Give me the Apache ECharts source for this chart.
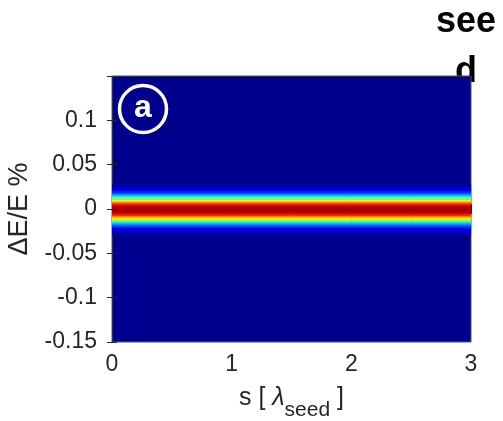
<!DOCTYPE html>
<html lang="en">
<head>
    <meta charset="UTF-8">
    <title>energy spread vs s</title>
    <script type="text/javascript" src="https://cdn.jsdelivr.net/npm/echarts@6/dist/echarts.min.js"></script>
    <style>
        html, body { margin: 0; padding: 0; background: #fff; }
    </style>
</head>
<body>
    <div id="main" style="width: 503px;height:421px;"></div>
    <script type="text/javascript">
    // columns along s (start of each column, in lambda_seed)
    let sStart = [0, 0.5, 1, 1.5, 2, 2.5];
    let sWidth = 0.5;

    // energy-deviation profile (centre of each row, in %) and its normalised density
    let deRows = [-0.028, -0.026, -0.024, -0.022, -0.020, -0.018, -0.016, -0.014, -0.012, -0.010, -0.008, -0.006, -0.004, -0.002, 0,
        0.002, 0.004, 0.006, 0.008, 0.010, 0.012, 0.014, 0.016, 0.018, 0.020, 0.022, 0.024, 0.026, 0.028];
    let density = [0.02, 0.04, 0.07, 0.11, 0.16, 0.22, 0.31, 0.40, 0.51, 0.63, 0.74, 0.85, 0.92, 0.96, 0.97,
        0.96, 0.92, 0.85, 0.74, 0.63, 0.51, 0.40, 0.31, 0.22, 0.16, 0.11, 0.07, 0.04, 0.02];
    let deStep = 0.002;

    let xTicks = [0, 1, 2, 3];

    // jet colormap
    let jet = ['#00008f', '#0000ff', '#0080ff', '#00ffff', '#80ff80', '#ffff00', '#ff8000', '#ff0000', '#800000'];

    let cells = [];
    for (let i = 0; i < sStart.length; i++) {
        for (let j = 0; j < deRows.length; j++) {
            cells.push([sStart[i] + sWidth / 2, deRows[j], density[j]]);
        }
    }

    let txt = '#262626';
    let font = 'Liberation Sans, Arial, Helvetica, sans-serif';

    let myChart = echarts.init(document.getElementById('main'));

    let axisCommon = {
        axisLine: { show: false },
        axisTick: { show: true, inside: true, length: 5, lineStyle: { color: txt, width: 1 } },
        splitLine: { show: false }
    };

    let option = {
        animation: false,
        grid: {
            left: 112, top: 76, right: 32, bottom: 79,
            show: true,
            backgroundColor: '#00008f',
            borderColor: '#555',
            borderWidth: 1,
            containLabel: false,
            outerBoundsMode: 'none'
        },
        visualMap: {
            show: false,
            type: 'continuous',
            min: 0,
            max: 1,
            dimension: 2,
            seriesIndex: 0,
            inRange: { color: jet }
        },
        xAxis: [Object.assign({
            type: 'value',
            min: 0,
            max: 3,
            interval: 1,
            position: 'bottom',
            axisLabel: {
                color: txt, fontSize: 23, fontFamily: font, margin: 11,
                customValues: xTicks
            },
            name: '{n|s [ }{l|λ}{sub|seed}{n| ]}',
            nameLocation: 'middle',
            nameGap: 33,
            nameTextStyle: {
                rich: {
                    n: { fontSize: 25, fontFamily: font, color: txt, lineHeight: 46 },
                    l: { fontSize: 25, fontFamily: font, fontStyle: 'italic', color: txt, lineHeight: 46 },
                    sub: { fontSize: 21, fontFamily: font, color: txt, lineHeight: 46, verticalAlign: 'bottom' }
                }
            }
        }, axisCommon), Object.assign({
            type: 'value',
            min: 0,
            max: 3,
            interval: 1,
            position: 'top',
            axisLabel: { show: false }
        }, axisCommon)],
        yAxis: [Object.assign({
            type: 'value',
            min: -0.15,
            max: 0.15,
            interval: 0.05,
            position: 'left',
            axisLabel: {
                color: txt, fontSize: 23, fontFamily: font, margin: 15,
                showMaxLabel: false,
                formatter: function (v) { return String(Math.round(v * 100) / 100); }
            },
            name: 'ΔE/E %',
            nameLocation: 'middle',
            nameRotate: 90,
            nameGap: 79,
            nameTextStyle: { color: txt, fontSize: 27, fontFamily: font }
        }, axisCommon), Object.assign({
            type: 'value',
            min: -0.15,
            max: 0.15,
            interval: 0.05,
            position: 'right',
            axisLabel: { show: false }
        }, axisCommon)],
        graphic: [
            {
                // sits on a lower layer so the plot hides the bottom of the "d"
                type: 'text',
                zlevel: -1,
                x: 466,
                y: -3,
                style: {
                    text: 'see\nd',
                    fill: '#000',
                    font: 'bold 36px ' + font,
                    textAlign: 'center',
                    lineHeight: 50
                }
            },
            {
                type: 'circle',
                z: 100,
                shape: { cx: 143, cy: 109, r: 23.5 },
                style: { fill: 'none', stroke: '#fff', lineWidth: 3.5 }
            },
            {
                type: 'text',
                z: 100,
                x: 143,
                y: 108,
                style: {
                    text: 'a',
                    fill: '#fff',
                    font: 'bold 32px ' + font,
                    textAlign: 'center',
                    textVerticalAlign: 'middle'
                }
            }
        ],
        series: [{
            type: 'custom',
            xAxisIndex: 0,
            yAxisIndex: 0,
            clip: true,
            renderItem: function (params, api) {
                let x = api.value(0);
                let y = api.value(1);
                let p0 = api.coord([x - sWidth / 2, y + deStep / 2]);
                let sz = api.size([sWidth, deStep]);
                return {
                    type: 'rect',
                    shape: { x: p0[0], y: p0[1], width: sz[0] + 0.5, height: sz[1] + 0.5 },
                    style: { fill: api.visual('color') }
                };
            },
            data: cells
        }]
    };

    myChart.setOption(option);
    </script>
</body>
</html>
